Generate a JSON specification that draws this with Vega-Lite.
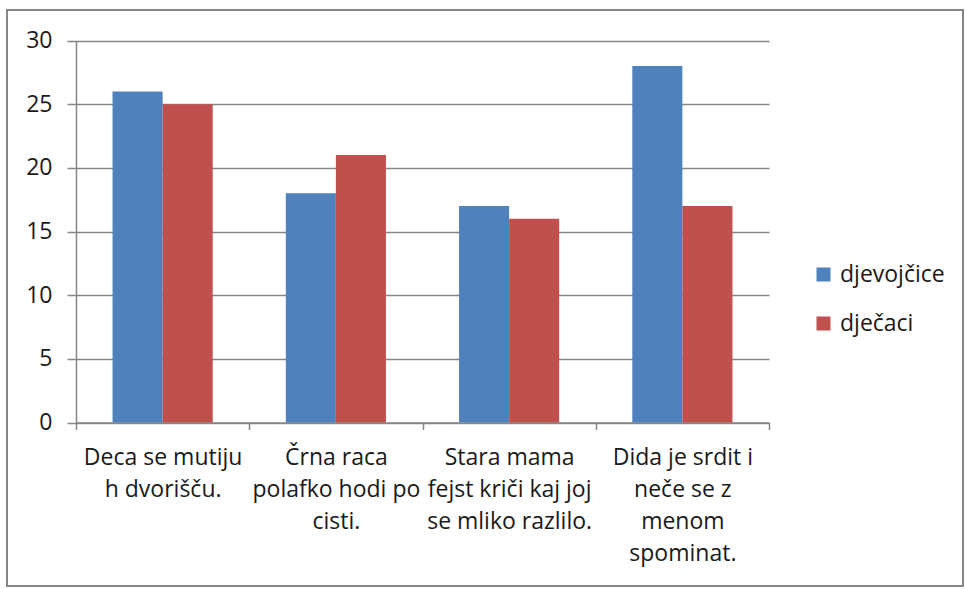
{
  "$schema": "https://vega.github.io/schema/vega-lite/v6.json",
  "width": 956,
  "height": 576,
  "autosize": {"type": "none"},
  "padding": {"left": 7, "top": 10, "right": 3, "bottom": 3},
  "background": "white",
  "config": {
    "view": {"stroke": "#868686", "strokeWidth": 2},
    "font": "Open Sans",
    "axis": {
      "labelFont": "Open Sans",
      "labelFontSize": 23,
      "labelColor": "#1a1a1a",
      "domainColor": "#868686",
      "domainWidth": 1.5,
      "tickColor": "#868686",
      "tickWidth": 1.5,
      "gridColor": "#868686",
      "gridWidth": 1.5,
      "title": null
    }
  },
  "data": {
    "values": [
      {"cat": "Deca se mutiju|h dvorišču.", "spol": "djevojčice", "v": 26},
      {"cat": "Deca se mutiju|h dvorišču.", "spol": "dječaci", "v": 25},
      {"cat": "Črna raca|polafko hodi po|cisti.", "spol": "djevojčice", "v": 18},
      {"cat": "Črna raca|polafko hodi po|cisti.", "spol": "dječaci", "v": 21},
      {"cat": "Stara mama|fejst kriči kaj joj|se mliko razlilo.", "spol": "djevojčice", "v": 17},
      {"cat": "Stara mama|fejst kriči kaj joj|se mliko razlilo.", "spol": "dječaci", "v": 16},
      {"cat": "Dida je srdit i|neče se z|menom|spominat.", "spol": "djevojčice", "v": 28},
      {"cat": "Dida je srdit i|neče se z|menom|spominat.", "spol": "dječaci", "v": 17}
    ]
  },
  "mark": {"type": "bar"},
  "encoding": {
    "x": {
      "field": "cat",
      "type": "nominal",
      "sort": null,
      "scale": {"range": [69, 762], "paddingInner": 0, "paddingOuter": 0},
      "axis": {
        "offset": -163.5,
        "grid": false,
        "labelAngle": 0,
        "labelLimit": 0,
        "labelOverlap": false,
        "labelExpr": "split(datum.label, '|')",
        "labelLineHeight": 32,
        "labelPadding": 17,
        "labelBaseline": "top",
        "tickSize": 7,
        "tickBand": "extent"
      }
    },
    "xOffset": {
      "field": "spol",
      "type": "nominal",
      "sort": ["djevojčice", "dječaci"],
      "scale": {"paddingInner": 0, "paddingOuter": 0.73}
    },
    "y": {
      "field": "v",
      "type": "quantitative",
      "scale": {"domain": [0, 30], "range": [412.5, 30.5], "nice": false, "zero": true},
      "axis": {
        "offset": -69,
        "values": [0, 5, 10, 15, 20, 25, 30],
        "grid": true,
        "tickSize": 9,
        "labelPadding": 15
      }
    },
    "color": {
      "field": "spol",
      "type": "nominal",
      "sort": ["djevojčice", "dječaci"],
      "scale": {"domain": ["djevojčice", "dječaci"], "range": ["#4F81BD", "#C0504D"]},
      "legend": {
        "orient": "none",
        "legendX": 805,
        "legendY": 253,
        "title": null,
        "symbolType": "square",
        "symbolSize": 196,
        "symbolStrokeWidth": 0,
        "labelFont": "Open Sans",
        "labelFontSize": 23,
        "labelColor": "#1a1a1a",
        "labelOffset": 5,
        "rowPadding": 25
      }
    }
  }
}
